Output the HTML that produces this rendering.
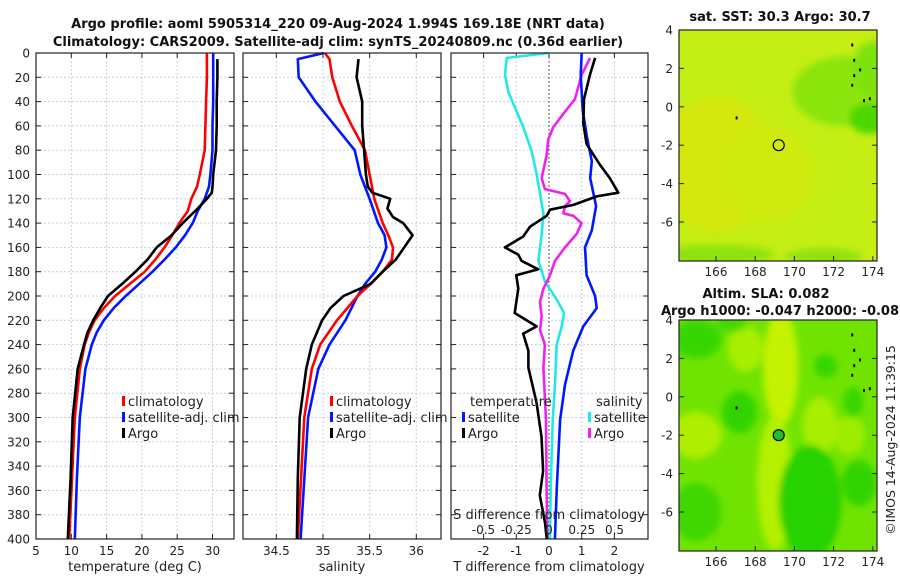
<!DOCTYPE html>
<html><head><meta charset="utf-8"><style>
html,body{margin:0;padding:0;background:#fff;}
svg text{font-family:"DejaVu Sans","Liberation Sans",sans-serif;fill:#222;}
.t{font-weight:bold;font-size:13px;fill:#111;}
.tk{font-size:12px;}
</style></head><body>
<svg id="fig" width="900" height="580" viewBox="0 0 900 580" xmlns="http://www.w3.org/2000/svg">
<defs><filter id="bl" x="-20%" y="-20%" width="140%" height="140%"><feGaussianBlur stdDeviation="3.5"/></filter>
<clipPath id="c1"><rect x="679" y="30" width="198" height="231"/></clipPath>
<clipPath id="c2"><rect x="679" y="320" width="198" height="231"/></clipPath></defs>
<text class="t" x="338" y="28" text-anchor="middle">Argo profile: aoml 5905314_220 09-Aug-2024 1.994S 169.18E (NRT data)</text>
<text class="t" x="338" y="46" text-anchor="middle">Climatology: CARS2009. Satellite-adj clim: synTS_20240809.nc (0.36d earlier)</text>
<g id="g"></g>
</svg>
<script>
const depthT=[0,5,20,40,60,80,100,110,120,130,140,150,160,170,180,190,200,210,220,230,240,260,300,350,400];
const tClim=[29.2,29.2,29.2,29.1,29.0,28.9,28.2,27.8,27.0,26.5,25.3,24.3,23.2,21.9,20.4,18.3,16.2,14.6,13.3,12.5,11.9,11.2,10.5,10.1,9.7];
const tSat=[30.1,30.1,30.1,30.1,30.0,30.0,29.7,29.5,28.9,27.9,27.2,26.1,24.8,23.2,21.5,19.6,17.7,16.0,14.6,13.6,12.9,12.0,11.2,10.8,10.5];
const depthA=[5,20,40,60,80,100,110,115,120,128,140,150,160,170,180,190,200,210,220,230,240,260,300,350,400];
const tArgo=[30.7,30.7,30.6,30.6,30.5,30.1,30.0,29.9,29.2,27.9,25.8,24.2,22.1,20.8,19.1,17.2,15.2,14.1,13.1,12.3,11.8,10.9,10.2,9.9,9.5];
const depthS=[0,5,20,40,60,80,100,120,140,150,160,170,180,190,200,220,240,260,300,400];
const sClim=[35.02,35.07,35.1,35.18,35.31,35.45,35.5,35.55,35.64,35.7,35.75,35.74,35.64,35.51,35.37,35.15,34.97,34.88,34.8,34.73];
const sSat=[35.01,34.73,34.74,34.92,35.13,35.34,35.4,35.5,35.59,35.66,35.68,35.63,35.56,35.45,35.37,35.24,35.07,34.95,34.84,34.76];
const depthSA=[5,20,40,60,80,100,110,115,120,128,135,140,150,160,170,180,190,200,210,220,240,260,300,350,400];
const sArgo=[35.38,35.36,35.42,35.42,35.44,35.46,35.48,35.53,35.72,35.69,35.75,35.86,35.96,35.87,35.78,35.64,35.51,35.22,35.08,34.99,34.88,34.82,34.75,34.73,34.72];
const dD=[0,4,18,32,61,81,100,132,149,171,188,203,214,225,240,273,302,358,400];
const dSsat=[0,-0.323,-0.336,-0.311,-0.196,-0.132,-0.094,-0.043,-0.056,-0.081,-0.031,0.059,0.115,0.097,0.059,0.046,0.028,0.013,0.008];
const dDm=[4,18,38,50,61,71,84,103,112,116,122,126,132,134,140,149,160,171,183,194,205,217,228,240,259,302,358,400];
const dSargo=[0.313,0.249,0.198,0.109,0.033,-0.005,-0.018,-0.056,-0.031,0.122,0.160,0.122,0.109,0.186,0.249,0.211,0.122,0.046,0.008,-0.043,-0.069,-0.056,-0.069,-0.031,-0.043,-0.023,-0.018,-0.013];
const dDb=[0,18,47,69,89,103,126,146,160,183,200,210,225,245,273,302,358,400];
const dTsat=[1.0,0.97,1.03,1.16,1.31,1.26,1.44,1.31,1.10,1.15,1.41,1.46,1.05,0.74,0.49,0.34,0.24,0.18];
const dDk=[4,18,38,58,75,92,103,115,118,125,129,134,143,151,160,166,171,178,183,194,205,214,225,231,245,259,288,316,344,364,387,400];
const dTargo=[1.41,1.25,1.07,1.05,1.15,1.56,1.86,2.12,1.46,0.75,0.03,-0.07,-0.58,-0.79,-1.35,-0.94,-0.84,-0.33,-1.0,-0.94,-1.0,-1.05,-0.38,-0.79,-0.63,-0.63,-0.38,-0.23,-0.18,-0.28,-0.12,-0.07];
const tTicks=[5,10,15,20,25,30], sTicks=[34.5,35,35.5,36], dTticks=[-2,-1,0,1,2];
const dSticks=["-0.5","-0.25","0","0.25","0.5"], dSvals=[-0.5,-0.25,0,0.25,0.5];
const depthTicks=[0,20,40,60,80,100,120,140,160,180,200,220,240,260,280,300,320,340,360,380,400];
const lonTicks=[166,168,170,172,174], latTicks=[4,2,0,-2,-4,-6];

const NS="http://www.w3.org/2000/svg", G=document.getElementById('g');
function mk(tag,at,par){const e=document.createElementNS(NS,tag);for(const k in at)e.setAttribute(k,at[k]);(par||G).appendChild(e);return e;}
const Y=d=>53+d*1.215;
const xT=v=>36+(v-5)*7.06, xS=v=>323+(v-35)*93.3, xDT=v=>549+v*32.7, xDS=v=>549+v*131;
const panels=[[36,234],[243,441],[451,648]];
panels.forEach((p,i)=>{
  const r=mk('rect',{x:p[0],y:53,width:p[1]-p[0],height:486,fill:'#fff',stroke:'none'});
  
  
  depthTicks.forEach(d=>{
    mk('line',{x1:p[0],x2:p[1],y1:Y(d),y2:Y(d),stroke:'#c8cce8','stroke-width':1,'stroke-dasharray':'2,2'});
    mk('line',{x1:p[0],x2:p[0]+5,y1:Y(d),y2:Y(d),stroke:'#222'});
    mk('line',{x1:p[1]-5,x2:p[1],y1:Y(d),y2:Y(d),stroke:'#222'});
  });
});
depthTicks.forEach(d=>{const t=mk('text',{x:30,y:Y(d)+4.5,'text-anchor':'end',class:'tk'});t.textContent=d;

});
function xgrid(p,vals,fx,labels){vals.forEach((v,i)=>{const x=fx(v);
 mk('line',{x1:x,x2:x,y1:53,y2:539,stroke:'#c8cce8','stroke-dasharray':'2,2'});
 mk('line',{x1:x,x2:x,y1:534,y2:539,stroke:'#222'});mk('line',{x1:x,x2:x,y1:53,y2:58,stroke:'#222'});
 const t=mk('text',{x:x,y:555,'text-anchor':'middle',class:'tk'});t.textContent=labels?labels[i]:v;
 
 });}
xgrid(0,tTicks,xT);xgrid(1,sTicks,xS);xgrid(2,dTticks,xDT);
mk('line',{x1:549,x2:549,y1:53,y2:539,stroke:'#333','stroke-dasharray':'1.5,2.5'});
function line(ds,vs,fx,col,name){const pts=ds.map((d,i)=>fx(vs[i]).toFixed(1)+','+Y(d).toFixed(1)).join(' ');
 const l=mk('polyline',{points:pts,fill:'none',stroke:col,'stroke-width':2.6,'stroke-linejoin':'round'});
 
 }
line(depthT,tSat,xT,'#0018ff','temp-satellite-line');line(depthT,tClim,xT,'#ff0000','temp-climatology-line');line(depthA,tArgo,xT,'#000','temp-argo-line');
line(depthS,sSat,xS,'#0018ff','sal-satellite-line');line(depthS,sClim,xS,'#ff0000','sal-climatology-line');line(depthSA,sArgo,xS,'#000','sal-argo-line');
line(dD,dSsat,xDS,'#22e8e8','sdiff-satellite-line');line(dDm,dSargo,xDS,'#ee22ee','sdiff-argo-line');
line(dDb,dTsat,xDT,'#0018ff','tdiff-satellite-line');line(dDk,dTargo,xDT,'#000','tdiff-argo-line');
panels.forEach(p=>mk('rect',{x:p[0],y:53,width:p[1]-p[0],height:486,fill:'none',stroke:'#222','stroke-width':1.2}));
function txt(x,y,s,name,extra){const t=mk('text',Object.assign({x:x,y:y,class:'tk'},extra||{}));t.textContent=s;
 
 return t;}
function leg(x,y,col,s,name){mk('rect',{x:x,y:y-10,width:3,height:10,fill:col});txt(x+6,y,s,name,{style:'font-size:13px'});}
leg(122,406,'#ff0000','climatology','legend-climatology');leg(122,422,'#0018ff','satellite-adj. clim','legend-satellite-adj');leg(122,438,'#000','Argo','legend-argo');
leg(330,406,'#ff0000','climatology','legend-climatology-2');leg(330,422,'#0018ff','satellite-adj. clim','legend-satellite-adj-2');leg(330,438,'#000','Argo','legend-argo-2');
txt(470,406,'temperature','legend-temperature-header',{style:'font-size:13px'});
leg(462,422,'#0018ff','satellite','legend-temp-satellite');leg(462,438,'#000','Argo','legend-temp-argo');
txt(596,406,'salinity','legend-salinity-header',{style:'font-size:13px'});
leg(588,422,'#22e8e8','satellite','legend-sal-satellite');leg(588,438,'#ee22ee','Argo','legend-sal-argo');
txt(549,519,'S difference from climatology','s-diff-axis-title',{'text-anchor':'middle',style:'font-size:13px'});
dSvals.forEach((v,i)=>txt(xDS(v),534,dSticks[i],'s-diff-tick-label',{'text-anchor':'middle'}));
txt(135,571,'temperature (deg C)','x-axis-title-temperature',{'text-anchor':'middle',style:'font-size:13px'});
txt(342,571,'salinity','x-axis-title-salinity',{'text-anchor':'middle',style:'font-size:13px'});
txt(549,571,'T difference from climatology','x-axis-title-tdiff',{'text-anchor':'middle',style:'font-size:13px'});

// maps
const mx=v=>716+(v-166)*19.6;
function map(top,clip,bg,blobs,dotFill,name){
 const g=mk('g',{'clip-path':'url(#'+clip+')'});
 
 
 const my=v=>top+(4-v)*19.2;
 mk('rect',{x:679,y:top,width:198,height:231,fill:bg},g);
 const gb=mk('g',{filter:'url(#bl)'},g);
 blobs.forEach(b=>mk('ellipse',{cx:mx(b[0]),cy:my(b[1]),rx:b[2]*19.6,ry:b[3]*19.2,fill:b[4]},gb));
 [[172.9,3.3],[173.0,2.5],[173.0,1.7],[173.3,2.0],[172.9,1.2],[173.5,0.4],[173.8,0.5],[167.0,-0.5]].forEach(p=>mk('rect',{x:mx(p[0]),y:my(p[1]),width:2,height:3,fill:'#000'},g));
 const c=mk('circle',{cx:mx(169.2),cy:my(-2),r:5.5,fill:dotFill,stroke:'#000','stroke-width':1.2});
 
 
 mk('rect',{x:679,y:top,width:198,height:231,fill:'none',stroke:'#222','stroke-width':1.2});
 lonTicks.forEach(v=>{mk('line',{x1:mx(v),x2:mx(v),y1:top+226,y2:top+231,stroke:'#222'});
  txt(mx(v),top+246,v,'lon-tick-label',{'text-anchor':'middle'});});
 latTicks.forEach(v=>{mk('line',{x1:679,x2:684,y1:my(v),y2:my(v),stroke:'#222'});mk('line',{x1:872,x2:877,y1:my(v),y2:my(v),stroke:'#222'});
  txt(673,my(v)+4.5,v,'lat-tick-label',{'text-anchor':'end'});});
}
map(30,'c1','#c4ee14',[[166,-3,3,3.5,'#d4e80e'],[168.5,-3.5,2.5,2.5,'#cfea10'],[172.5,0.8,2.6,1.8,'#8ce40a'],[173.8,-0.6,1.0,0.8,'#4cd800'],[174,2,1,1.4,'#7ee208'],[166,-7.7,3,0.5,'#8ee20a'],[171.5,-7.8,2,0.4,'#90e20a']],'none','sst-map');
map(320,'c2','#70e400',[[169.3,1.5,0.9,3,'#c4f200'],[169.0,-4.5,0.9,3.5,'#b4f000'],[165,-2,1.3,1.2,'#b0ee00'],[171.3,-1.5,0.9,1.5,'#a8ee00'],[172.8,-2,0.8,1,'#a0ec00'],[167.5,2.5,0.9,1.2,'#a8ee00'],[165,3,1.3,1,'#38d600'],[167.2,-0.8,0.9,1.1,'#30d400'],[170.8,-5.5,1.6,3,'#28d200'],[173.3,-4.5,0.9,1.2,'#30d400'],[171.6,1.6,0.6,0.6,'#38d600'],[173,-0.3,0.5,0.8,'#38d600'],[165,-6,1.3,1.5,'#40d600'],[166.8,3.8,0.8,0.4,'#40d800']],'#22bb33','sla-map');
txt(780,21,'sat. SST: 30.3 Argo: 30.7','sst-map-title',{class:'t','text-anchor':'middle'});
txt(766,298,'Altim. SLA: 0.082','sla-map-title',{class:'t','text-anchor':'middle'});
txt(780,315,'Argo h1000: -0.047 h2000: -0.08','sla-map-subtitle',{class:'t','text-anchor':'middle'});
txt(0,0,'©IMOS 14-Aug-2024 11:39:15','imos-timestamp',{transform:'translate(895,440) rotate(-90)','text-anchor':'middle',style:'font-size:12.5px'});
</script>
</body></html>
